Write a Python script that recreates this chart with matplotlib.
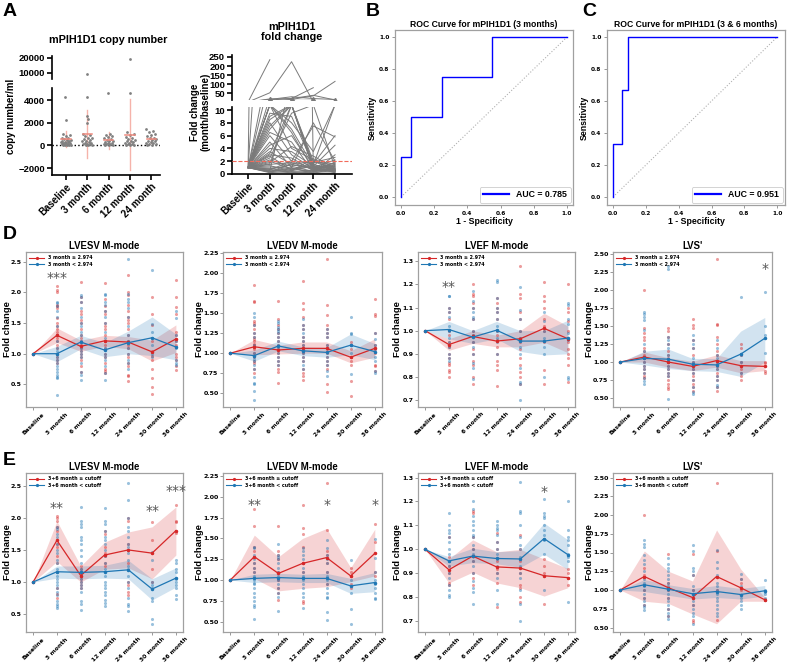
import numpy as np
import matplotlib
matplotlib.use('Agg')
import matplotlib.pyplot as plt
from matplotlib.lines import Line2D
from matplotlib.transforms import offset_copy

nan = np.nan
W, H = 788, 663
ARIAL = ['Liberation Sans', 'DejaVu Sans']
DEJA = ['DejaVu Sans']
plt.rcParams['font.family'] = DEJA

# ------------------------------------------------------------------ Panel A data
a_cats = ['Baseline', '3 month', '6 month', '12 month', '24 month']
copy_baseline = [4300, 2200, 1050, 900, 820, 700, 620, 560, 500, 460, 420, 380, 340, 300, 270,
                 240, 210, 180, 150, 120, 100, 80, 60, 40, 20, 10]
copy_3m = [9600, 4300, 2600, 2300, 1950, 1000, 900, 800, 700, 620, 540, 480, 420, 360, 300, 250,
           200, 160, 120, 90, 60, 30, 10]
copy_6m = [4600, 1050, 950, 820, 720, 620, 540, 470, 410, 360, 310, 260, 210, 170, 130, 100, 70, 40, 20]
copy_12m = [19300, 4600, 1200, 1050, 900, 760, 650, 560, 480, 410, 350, 300, 250, 200, 150, 110, 80, 50, 25]
copy_24m = [1450, 1300, 1150, 1000, 900, 800, 700, 620, 550, 480, 420, 360, 300, 250, 200, 150, 100, 60, 30]
copy_mean = [560, 1010, 440, 965, 560]
copy_sd = [720, 2100, 730, 3150, 320]

fold_traj = [
    [1, 235, nan, nan, nan],
    [1, 52, 224, 0.8, 0.5],
    [1, 18, 20, 38, 12],
    [1, 0.5, 15, 35, 115],
    [1, 12, 20, 80, nan],
    [1, 15, 30, 20, 15],
    [1, 9.5, 9, 1.5, 0.5],
    [1, 8, 3, 0.8, 1.2],
    [1, 7, 10.8, 2, 0.6],
    [1, 6, 2, 7.5, 5.8],
    [1, 5, 1, 8, 2],
    [1, 4.5, 6, 1, 0.3],
    [1, 4, 3.5, 1.2, 4.5],
    [1, 3.5, 1.5, 0.9, 1.5],
    [1, 3, 2.5, 0.5, 0.7],
    [1, 2.8, 0.6, 1.8, 2.6],
    [1, 2.5, 9.5, 10.8, 1.0],
    [1, 2.2, 1.2, 0.4, 0.8],
    [1, 2, 0.8, 1.1, 0.2],
    [1, 1.8, 4.3, 2.8, 0.9],
    [1, 1.5, 1.8, 0.7, 1.8],
    [1, 1.3, 0.5, 1.3, 0.4],
    [1, 1.1, 0.9, 0.3, 1.1],
    [1, 0.9, 0.4, 0.6, 0.5],
    [1, 0.8, 1.4, 1.0, 2.2],
    [1, 0.7, 0.3, 0.2, 0.1],
    [1, 0.6, 2.1, 0.8, 1.4],
    [1, 0.5, 0.7, 1.5, 0.6],
    [1, 0.4, 0.2, 0.5, 0.3],
    [1, 0.3, 1.0, 0.1, 0.9],
    [1, 0.2, 0.5, 2.4, 0.7],
    [1, 10.8, 6.5, 0.6, 1.3],
    [1, 10.8, 8, 3.5, 10.8],
    [1, 9, 10.8, 1.0, 0.4],
    [1, 6.5, 5, 0.3, 3.0],
    [1, 1.6, 10.8, 0.7, 0.5],
    [1, 3.2, 10.8, 1.4, 10.8],
    [1, 0.35, 1.6, 1.9, 1.6],
    [1, 10.8, 7, 1.2, 0.8],
    [1, 8.5, 10.8, 0.9, 1.7],
    [1, 10.8, 4, 2.2, 0.6],
    [1, 7.5, 10.8, 1.6, 6.0],
]
fold_marks = [nan, 15, 15, 15, 14]
fold_cut = 2.0

# ------------------------------------------------------------------ Panel B/C data
roc_b_fpr = [0, 0, 0.0625, 0.0625, 0.25, 0.25, 0.55, 0.55, 1.0]
roc_b_tpr = [0, 0.25, 0.25, 0.5, 0.5, 0.75, 0.75, 1.0, 1.0]
roc_b_auc = 0.785
roc_c_fpr = [0, 0, 0.055, 0.055, 0.09, 0.09, 1.0]
roc_c_tpr = [0, 0.333, 0.333, 0.667, 0.667, 1.0, 1.0]
roc_c_auc = 0.951

# ------------------------------------------------------------------ Panel D/E data
t_cats = ['Baseline', '3 month', '6 month', '12 month', '24 month', '30 month', '36 month']

# D : LVESV
d_lvesv_red_m = [1.0, 1.30, 1.12, 1.21, 1.19, 1.03, 1.24]
d_lvesv_red_lo = [1.0, 1.18, 1.04, 1.12, 1.08, 0.88, 1.02]
d_lvesv_red_hi = [1.0, 1.42, 1.22, 1.30, 1.28, 1.22, 1.47]
d_lvesv_blue_m = [1.0, 1.00, 1.19, 1.06, 1.18, 1.26, 1.11]
d_lvesv_blue_lo = [1.0, 0.87, 1.08, 0.95, 1.00, 0.97, 0.90]
d_lvesv_blue_hi = [1.0, 1.12, 1.30, 1.18, 1.37, 1.60, 1.32]
d_lvesv_red_pts = [
    [1.0],
    [2.11, 2.04, 2.0, 1.8, 1.78, 1.75, 1.58, 1.5, 1.45, 1.4, 1.35, 1.3, 1.25, 1.2, 1.15, 1.1, 1.0, 0.95, 0.9, 0.85],
    [2.17, 1.92, 1.85, 1.7, 1.65, 1.55, 1.5, 1.4, 1.3, 1.25, 1.2, 1.15, 1.1, 1.05, 1.0, 0.95, 0.9, 0.8, 0.7],
    [2.15, 1.9, 1.78, 1.7, 1.65, 1.5, 1.45, 1.4, 1.3, 1.2, 1.15, 1.1, 1.0, 0.95, 0.85, 0.75, 0.72, 0.68],
    [2.28, 2.0, 1.95, 1.8, 1.7, 1.6, 1.55, 1.5, 1.4, 1.3, 1.2, 1.15, 1.1, 1.0, 0.95, 0.85, 0.8, 0.65, 0.63, 0.55],
    [1.93, 1.65, 1.47, 1.2, 1.05, 0.97, 0.9, 0.75, 0.6, 0.45, 0.35],
    [2.2, 1.93, 1.77, 1.65, 1.35, 1.3, 1.2, 1.15, 1.0, 0.95, 0.9, 0.8, 0.73]]
d_lvesv_blue_pts = [
    [1.0],
    [1.85, 1.82, 1.78, 1.7, 1.6, 1.45, 1.3, 1.2, 1.1, 1.05, 1.0, 0.95, 0.9, 0.85, 0.8, 0.75, 0.7, 0.65, 0.62, 0.6, 0.32],
    [1.95, 1.92, 1.85, 1.75, 1.6, 1.5, 1.45, 1.35, 1.3, 1.2, 1.1, 1.05, 1.0, 0.95, 0.85, 0.7, 0.65, 0.57],
    [1.98, 1.95, 1.85, 1.8, 1.7, 1.6, 1.5, 1.35, 1.25, 1.1, 1.0, 0.95, 0.9, 0.8, 0.68, 0.57],
    [2.55, 1.98, 1.9, 1.85, 1.75, 1.6, 1.45, 1.3, 1.2, 1.1, 1.0, 0.9, 0.85, 0.75],
    [2.36, 1.48, 1.35, 1.15, 1.0, 0.95],
    [1.7, 1.58, 1.3, 1.2, 1.1, 0.9, 0.85, 0.82]]
d_lvesv_stars = [(1, 2.31, '***')]

# D : LVEDV
d_lvedv_red_m = [1.0, 1.08, 1.04, 1.06, 1.06, 0.95, 1.06]
d_lvedv_red_lo = [1.0, 0.98, 0.99, 1.00, 1.00, 0.88, 0.95]
d_lvedv_red_hi = [1.0, 1.17, 1.10, 1.14, 1.14, 1.03, 1.18]
d_lvedv_blue_m = [1.0, 0.97, 1.09, 1.03, 1.01, 1.10, 1.02]
d_lvedv_blue_lo = [1.0, 0.90, 1.03, 0.97, 0.95, 0.98, 0.92]
d_lvedv_blue_hi = [1.0, 1.04, 1.15, 1.08, 1.07, 1.24, 1.12]
d_lvedv_red_pts = [
    [1.0],
    [1.85, 1.65, 1.64, 1.4, 1.38, 1.35, 1.3, 1.25, 1.2, 1.18, 1.15, 1.12, 1.1, 1.05, 1.0, 0.95, 0.9, 0.88, 0.8, 0.75],
    [1.65, 1.43, 1.35, 1.3, 1.25, 1.2, 1.15, 1.1, 1.05, 1.0, 0.95, 0.9, 0.85, 0.8, 0.76, 0.63],
    [1.9, 1.62, 1.55, 1.45, 1.35, 1.3, 1.2, 1.15, 1.1, 1.05, 1.0, 0.95, 0.9, 0.8, 0.75, 0.72, 0.67],
    [2.17, 1.6, 1.48, 1.35, 1.3, 1.25, 1.2, 1.1, 1.05, 1.0, 0.95, 0.9, 0.85, 0.8, 0.62, 0.52],
    [1.14, 1.1, 1.05, 0.95, 0.9, 0.85, 0.65, 0.47],
    [1.67, 1.49, 1.46, 1.25, 1.1, 1.05, 1.0, 0.85, 0.84, 0.78]]
d_lvedv_blue_pts = [
    [1.0],
    [1.5, 1.45, 1.35, 1.25, 1.2, 1.1, 1.0, 0.97, 0.93, 0.9, 0.85, 0.8, 0.7, 0.63, 0.62, 0.53, 0.42],
    [1.4, 1.38, 1.33, 1.3, 1.28, 1.25, 1.2, 1.15, 1.1, 1.05, 1.0, 0.95, 0.9, 0.85],
    [1.43, 1.35, 1.3, 1.25, 1.2, 1.15, 1.1, 1.0, 0.95, 0.9, 0.85, 0.8],
    [1.3, 1.25, 1.2, 1.1, 1.0, 0.95, 0.9, 0.85, 0.78, 0.72],
    [1.45, 1.25, 1.24, 1.1, 1.0, 0.74],
    [1.25, 1.18, 1.1, 1.05, 0.95, 0.9, 0.78, 0.75]]
d_lvedv_stars = []

# D : LVEF
d_lvef_red_m = [1.0, 0.94, 0.975, 0.955, 0.965, 1.01, 0.965]
d_lvef_red_lo = [1.0, 0.915, 0.945, 0.93, 0.93, 0.95, 0.905]
d_lvef_red_hi = [1.0, 0.965, 1.00, 0.98, 1.00, 1.075, 1.02]
d_lvef_blue_m = [1.0, 1.005, 0.972, 1.002, 0.955, 0.955, 0.968]
d_lvef_blue_lo = [1.0, 0.965, 0.945, 0.965, 0.91, 0.895, 0.90]
d_lvef_blue_hi = [1.0, 1.04, 1.00, 1.04, 1.00, 1.00, 1.045]
d_lvef_red_pts = [
    [1.0],
    [1.1, 1.08, 1.05, 1.0, 0.98, 0.95, 0.93, 0.9, 0.88, 0.86, 0.85, 0.83, 0.82, 0.8],
    [1.2, 1.16, 1.15, 1.12, 1.1, 1.05, 1.0, 0.98, 0.95, 0.92, 0.9, 0.87, 0.85, 0.8, 0.77],
    [1.14, 1.12, 1.1, 1.08, 1.05, 1.0, 0.98, 0.96, 0.93, 0.9, 0.87, 0.85, 0.83, 0.76],
    [1.28, 1.16, 1.14, 1.08, 1.05, 1.0, 0.97, 0.95, 0.92, 0.88, 0.85, 0.82, 0.8, 0.77],
    [1.21, 1.15, 1.13, 1.1, 1.05, 1.02, 1.0, 0.95, 0.83, 0.77],
    [1.2, 1.1, 1.08, 1.04, 1.0, 0.95, 0.92, 0.9, 0.88, 0.85, 0.78]]
d_lvef_blue_pts = [
    [1.0],
    [1.15, 1.15, 1.1, 1.08, 1.06, 1.02, 1.0, 0.97, 0.95, 0.93, 0.9, 0.88, 0.87],
    [1.17, 1.13, 1.1, 1.08, 1.06, 1.05, 1.0, 0.98, 0.95, 0.93, 0.9, 0.86, 0.84, 0.79],
    [1.22, 1.21, 1.14, 1.1, 1.08, 1.05, 1.02, 1.0, 0.97, 0.95, 0.9],
    [1.19, 1.09, 1.05, 1.0, 0.97, 0.93, 0.9, 0.84, 0.78, 0.77, 0.7],
    [1.08, 1.04, 1.0, 0.97, 0.93, 0.9, 0.8],
    [1.12, 1.11, 1.05, 1.03, 0.99, 0.96, 0.8, 0.79]]
d_lvef_stars = [(1, 1.21, '**')]

# D : LVS'
d_lvs_red_m = [1.0, 1.07, 1.00, 0.94, 1.02, 0.95, 0.94]
d_lvs_red_lo = [1.0, 1.00, 0.93, 0.88, 0.93, 0.85, 0.88]
d_lvs_red_hi = [1.0, 1.14, 1.06, 1.01, 1.10, 1.02, 1.02]
d_lvs_blue_m = [1.0, 1.05, 1.04, 0.97, 0.96, 1.11, 1.33]
d_lvs_blue_lo = [1.0, 0.96, 0.91, 0.88, 0.87, 0.80, 1.00]
d_lvs_blue_hi = [1.0, 1.15, 1.18, 1.05, 1.05, 1.43, 1.62]
d_lvs_red_pts = [
    [1.0],
    [2.0, 1.47, 1.4, 1.35, 1.3, 1.2, 1.15, 1.1, 1.05, 1.0, 0.95, 0.9, 0.85, 0.8, 0.78],
    [1.48, 1.43, 1.35, 1.25, 1.15, 1.1, 1.05, 1.0, 0.95, 0.9, 0.85, 0.8, 0.75, 0.7, 0.65, 0.62],
    [1.6, 1.52, 1.48, 1.3, 1.2, 1.1, 1.0, 0.9, 0.85, 0.8, 0.75, 0.7, 0.65, 0.6],
    [2.43, 1.53, 1.52, 1.35, 1.25, 1.15, 1.1, 1.0, 0.95, 0.9, 0.85, 0.8, 0.75, 0.65, 0.6],
    [1.25, 1.2, 1.1, 1.0, 0.9, 0.85, 0.8, 0.75],
    [1.0, 0.98, 0.88, 0.85]]
d_lvs_blue_pts = [
    [1.0],
    [1.7, 1.67, 1.62, 1.58, 1.45, 1.25, 1.15, 1.05, 1.0, 0.95, 0.9, 0.85, 0.78, 0.73, 0.7],
    [2.33, 2.3, 1.35, 1.3, 1.25, 1.2, 1.1, 1.0, 0.95, 0.9, 0.85, 0.8, 0.48],
    [1.37, 1.3, 1.25, 1.2, 1.05, 1.0, 0.95, 0.9, 0.85, 0.75, 0.65, 0.58, 0.55],
    [1.3, 1.2, 1.1, 1.05, 1.0, 0.95, 0.9, 0.8, 0.75, 0.68, 0.65],
    [1.9, 1.1, 1.0, 0.95, 0.85],
    [1.97, 1.5, 1.37, 1.13]]
d_lvs_stars = [(6, 2.35, '*')]

# E : LVESV
e_lvesv_red_m = [1.0, 1.65, 1.10, 1.42, 1.50, 1.45, 1.80]
e_lvesv_red_lo = [1.0, 1.32, 1.00, 1.20, 1.22, 1.05, 1.42]
e_lvesv_red_hi = [1.0, 1.95, 1.25, 1.62, 1.78, 1.86, 2.17]
e_lvesv_blue_m = [1.0, 1.16, 1.15, 1.16, 1.19, 0.89, 1.06]
e_lvesv_blue_lo = [1.0, 1.06, 1.05, 1.06, 1.05, 0.72, 0.92]
e_lvesv_blue_hi = [1.0, 1.25, 1.25, 1.26, 1.34, 1.05, 1.22]
e_lvesv_red_pts = [
    [1.0],
    [2.03, 2.0, 1.95, 1.85, 1.8, 1.6, 1.55, 1.4, 1.3, 0.9, 0.82, 0.75],
    [1.25, 1.2, 1.1, 1.05, 1.0, 0.95, 0.9],
    [1.8, 1.75, 1.55, 1.45, 1.4, 1.3, 1.25],
    [2.0, 1.95, 1.6, 1.5, 1.3, 1.0, 0.95, 0.85, 0.8],
    [1.93, 1.65, 1.45, 1.2, 1.0],
    [2.2, 1.95, 1.93, 1.77]]
e_lvesv_blue_pts = [
    [1.0],
    [1.85, 1.82, 1.75, 1.7, 1.6, 1.5, 1.45, 1.35, 1.3, 1.2, 1.15, 1.1, 1.05, 1.0, 0.95, 0.9, 0.85, 0.8, 0.7, 0.65, 0.62, 0.6],
    [2.17, 1.95, 1.9, 1.85, 1.7, 1.65, 1.6, 1.5, 1.4, 1.3, 1.2, 1.15, 1.1, 1.05, 1.0, 0.95, 0.9, 0.85, 0.7, 0.65, 0.57],
    [2.15, 1.95, 1.9, 1.8, 1.7, 1.65, 1.6, 1.5, 1.4, 1.3, 1.2, 1.1, 1.0, 0.95, 0.9, 0.85, 0.8, 0.72, 0.68, 0.62],
    [2.55, 2.28, 2.0, 1.85, 1.8, 1.7, 1.6, 1.55, 1.45, 1.35, 1.25, 1.2, 1.1, 1.0, 0.9, 0.75, 0.65, 0.63, 0.55],
    [1.47, 1.35, 1.0, 0.95, 0.9, 0.75, 0.7, 0.43, 0.35],
    [1.35, 1.3, 1.2, 1.15, 1.05, 1.0, 0.95, 0.9, 0.8, 0.73]]
e_lvesv_stars = [(1, 2.23, '**'), (5, 2.17, '**'), (6, 2.49, '***')]

# E : LVEDV
e_lvedv_red_m = [1.0, 1.28, 1.08, 1.20, 1.27, 1.05, 1.32]
e_lvedv_red_lo = [1.0, 1.02, 0.87, 0.90, 0.92, 0.98, 1.05]
e_lvedv_red_hi = [1.0, 1.54, 1.28, 1.50, 1.62, 1.15, 1.61]
e_lvedv_blue_m = [1.0, 1.02, 1.03, 1.02, 1.02, 0.93, 0.97]
e_lvedv_blue_lo = [1.0, 0.97, 0.98, 0.97, 0.97, 0.84, 0.86]
e_lvedv_blue_hi = [1.0, 1.07, 1.08, 1.07, 1.08, 1.02, 1.09]
e_lvedv_red_pts = [
    [1.0],
    [1.85, 1.65, 1.4, 1.35, 1.2, 1.15, 1.1],
    [1.65, 1.35, 1.3, 1.25, 1.1, 1.0, 0.9, 0.85, 0.76],
    [1.9, 1.62, 1.55, 1.4, 1.2, 1.1, 0.75, 0.72],
    [2.17, 1.6, 1.35, 1.3, 1.2, 1.1, 0.95],
    [1.14, 1.1, 1.05, 0.95, 0.9],
    [1.67, 1.46, 1.1, 1.05]]
e_lvedv_blue_pts = [
    [1.0],
    [1.4, 1.38, 1.3, 1.25, 1.2, 1.15, 1.1, 1.05, 1.0, 0.97, 0.95, 0.9, 0.85, 0.8, 0.75, 0.7, 0.68, 0.53],
    [1.43, 1.3, 1.28, 1.25, 1.2, 1.15, 1.1, 1.05, 1.0, 0.95, 0.9, 0.85, 0.8, 0.63],
    [1.38, 1.35, 1.3, 1.25, 1.2, 1.15, 1.1, 1.05, 1.0, 0.95, 0.9, 0.85, 0.8, 0.67],
    [1.48, 1.38, 1.3, 1.25, 1.2, 1.1, 1.05, 1.0, 0.95, 0.9, 0.85, 0.8, 0.78, 0.62, 0.52],
    [1.24, 1.0, 0.85, 0.65, 0.47],
    [1.49, 1.27, 1.1, 1.0, 0.95, 0.9, 0.85, 0.78, 0.77]]
e_lvedv_stars = [(1, 1.96, '**'), (4, 1.96, '*'), (6, 1.96, '*')]

# E : LVEF
e_lvef_red_m = [1.0, 0.915, 0.972, 0.927, 0.922, 0.89, 0.882]
e_lvef_red_lo = [1.0, 0.86, 0.905, 0.86, 0.84, 0.805, 0.84]
e_lvef_red_hi = [1.0, 0.96, 1.04, 0.99, 1.00, 0.96, 0.92]
e_lvef_blue_m = [1.0, 0.952, 0.972, 0.962, 0.96, 1.045, 0.978]
e_lvef_blue_lo = [1.0, 0.93, 0.945, 0.94, 0.925, 0.98, 0.915]
e_lvef_blue_hi = [1.0, 0.97, 1.005, 0.99, 0.995, 1.11, 1.04]
e_lvef_red_pts = [
    [1.0],
    [1.05, 0.97, 0.93, 0.9, 0.86, 0.85],
    [1.16, 1.15, 1.05, 1.0, 0.95, 0.9, 0.88, 0.85],
    [1.07, 1.03, 1.0, 0.95, 0.92, 0.9, 0.86, 0.76],
    [1.06, 1.0, 0.95, 0.9, 0.85, 0.84, 0.8, 0.78],
    [0.96, 0.93, 0.9, 0.77],
    [0.92, 0.9, 0.88, 0.85]]
e_lvef_blue_pts = [
    [1.0],
    [1.15, 1.1, 1.08, 1.07, 1.05, 1.03, 1.0, 0.98, 0.95, 0.93, 0.9, 0.88, 0.85, 0.83, 0.81, 0.8],
    [1.2, 1.17, 1.14, 1.12, 1.1, 1.08, 1.06, 1.05, 1.02, 1.0, 0.98, 0.95, 0.93, 0.9, 0.87, 0.84, 0.82, 0.77],
    [1.12, 1.1, 1.09, 1.08, 1.06, 1.03, 1.0, 0.98, 0.96, 0.93, 0.9, 0.88, 0.83, 0.77],
    [1.28, 1.16, 1.15, 1.1, 1.05, 1.02, 1.0, 0.97, 0.93, 0.9, 0.88, 0.83, 0.77, 0.7],
    [1.21, 1.15, 1.14, 1.13, 1.1, 1.08, 1.06, 1.04, 0.98, 0.83],
    [1.2, 1.08, 1.05, 1.04, 1.02, 0.98, 0.97, 0.95, 0.78]]
e_lvef_stars = [(5, 1.26, '*')]

# E : LVS'
e_lvs_red_m = [1.0, 1.18, 1.03, 0.90, 1.18, 1.03, 0.87]
e_lvs_red_lo = [1.0, 0.85, 0.82, 0.68, 0.55, 0.85, 0.85]
e_lvs_red_hi = [1.0, 1.52, 1.25, 1.12, 1.80, 1.28, 0.90]
e_lvs_blue_m = [1.0, 1.07, 1.01, 0.95, 0.98, 0.94, 0.99]
e_lvs_blue_lo = [1.0, 0.98, 0.93, 0.88, 0.90, 0.88, 0.92]
e_lvs_blue_hi = [1.0, 1.14, 1.07, 1.02, 1.06, 1.02, 1.06]
e_lvs_red_pts = [
    [1.0],
    [2.0, 1.3, 1.2, 1.0, 0.9, 0.8],
    [1.48, 1.1, 1.0, 0.9, 0.75, 0.65],
    [1.48, 1.2, 1.0, 0.8, 0.6, 0.58],
    [2.43, 1.52, 1.0, 0.6],
    [1.15, 1.1, 1.0],
    [0.88, 0.87]]
e_lvs_blue_pts = [
    [1.0],
    [1.67, 1.62, 1.58, 1.47, 1.4, 1.35, 1.25, 1.15, 1.1, 1.05, 1.0, 0.95, 0.9, 0.85, 0.8, 0.78, 0.73],
    [1.43, 1.35, 1.3, 1.25, 1.2, 1.15, 1.1, 1.05, 1.0, 0.95, 0.9, 0.85, 0.8, 0.75, 0.7, 0.65, 0.62],
    [1.6, 1.52, 1.3, 1.25, 1.2, 1.05, 1.0, 0.95, 0.9, 0.85, 0.8, 0.75, 0.7, 0.65, 0.55],
    [1.53, 1.38, 1.3, 1.2, 1.1, 1.05, 1.0, 0.95, 0.9, 0.85, 0.8, 0.75, 0.7, 0.65],
    [1.22, 1.15, 1.05, 0.9, 0.85, 0.8, 0.75],
    [1.13, 1.0, 0.98, 0.95, 0.9, 0.87]]
e_lvs_stars = []

d_labels = ['3 month \u2265 2.974', '3 month < 2.974']
e_labels = ['3+6 month \u2265 cutoff', '3+6 month < cutoff']

# ------------------------------------------------------------------ helpers
fig = plt.figure(figsize=(W / 100, H / 100), dpi=100)


def px_ax(x0, y0, x1, y1):
    return fig.add_axes([x0 / W, 1 - y1 / H, (x1 - x0) / W, (y1 - y0) / H])


def ftext(x, y, s, **kw):
    return fig.text(x / W, 1 - y / H, s, **kw)


RED = '#d62728'
BLUE = '#1f77b4'
GREY_SP = '#a0a0a0'

# ------------------------------------------------------------------ Panel A left
axL_lo = px_ax(52, 88, 160, 175)
axL_hi = px_ax(52, 56, 160, 79)
groups = [copy_baseline, copy_3m, copy_6m, copy_12m, copy_24m]
for ax in (axL_lo, axL_hi):
    for i, vals in enumerate(groups):
        v = np.array(vals, float)
        offs = np.array([((k * 0.618034) % 1 - 0.5) * (0.5 if val < 1600 else 0.04)
                         for k, val in enumerate(v)])
        ax.scatter(i + offs, v, s=4, color='#808080', zorder=3, lw=0)
        ax.plot([i, i], [copy_mean[i] - copy_sd[i], copy_mean[i] + copy_sd[i]],
                color='#f5b3aa', lw=1, zorder=2)
        ax.plot([i - 0.22, i + 0.22], [copy_mean[i]] * 2, color='#ef8a7e', lw=1.1, zorder=4)
    ax.set_xlim(-0.65, 4.4)
    for s in ('top', 'right'):
        ax.spines[s].set_visible(False)
    ax.spines['left'].set_linewidth(1.2)
    ax.spines['bottom'].set_linewidth(1.2)
    ax.tick_params(width=1.2, length=3.5, pad=1.5)
axL_lo.set_ylim(-2600, 5060)
axL_hi.set_ylim(6000, 21300)
axL_lo.axhline(0, color='black', ls=':', lw=1, zorder=1)
axL_hi.spines['bottom'].set_visible(False)
axL_hi.set_xticks([])
axL_hi.set_yticks([10000, 20000])
axL_lo.set_yticks([-2000, 0, 2000, 4000])
axL_lo.set_xticks(range(5))
axL_lo.set_xticklabels(a_cats, rotation=45, ha='right', rotation_mode='anchor',
                       family=ARIAL, weight='bold', fontsize=7)
for ax in (axL_lo, axL_hi):
    for t in ax.get_yticklabels():
        t.set_family(ARIAL); t.set_weight('bold'); t.set_fontsize(6.8)
ftext(108, 40, 'mPIH1D1 copy number', ha='center', va='center', family=ARIAL,
      weight='bold', fontsize=7.8)
ftext(11, 116, 'copy number/ml', rotation=90, ha='center', va='center', family=ARIAL,
      weight='bold', fontsize=7)

# ------------------------------------------------------------------ Panel A right
axR_lo = px_ax(232, 107, 352, 174)
axR_hi = px_ax(232, 55, 352, 100)
xs5 = np.arange(5)
for ax in (axR_lo, axR_hi):
    for tr in fold_traj:
        ax.plot(xs5, tr, color='#7a7a7a', lw=0.7, zorder=2)
    ax.plot(xs5, fold_marks, ls='none', marker='^', ms=3, color='#7a7a7a', zorder=3)
    ax.set_xlim(-0.74, 4.78)
    for s in ('top', 'right'):
        ax.spines[s].set_visible(False)
    ax.spines['left'].set_linewidth(1.2)
    ax.spines['bottom'].set_linewidth(1.2)
    ax.tick_params(width=1.2, length=3.5, pad=1.5)
axR_lo.axhline(fold_cut, color='#f26b5b', ls='--', lw=0.8, zorder=4)
axR_lo.set_ylim(0, 10.47)
axR_hi.set_ylim(12, 261)
axR_hi.spines['bottom'].set_visible(False)
axR_hi.set_xticks([])
axR_hi.set_yticks([50, 100, 150, 200, 250])
axR_lo.set_yticks([0, 2, 4, 6, 8, 10])
axR_lo.set_xticks(range(5))
axR_lo.set_xticklabels(a_cats, rotation=45, ha='right', rotation_mode='anchor',
                       family=ARIAL, weight='bold', fontsize=7)
for ax in (axR_lo, axR_hi):
    for t in ax.get_yticklabels():
        t.set_family(ARIAL); t.set_weight('bold'); t.set_fontsize(6.8)
ftext(292, 32, 'mPIH1D1\nfold change', ha='center', va='center', family=ARIAL,
      weight='bold', fontsize=7.8, linespacing=1.1)
ftext(200, 112, 'Fold change\n(month/baseline)', rotation=90, ha='center', va='center',
      family=ARIAL, weight='bold', fontsize=7, linespacing=1.05)

# ------------------------------------------------------------------ ROC panels
def roc_panel(rect, fpr, tpr, auc, title, xlim):
    ax = px_ax(*rect)
    ax.plot([0, 1], [0, 1], color='#b0b0b0', ls=':', lw=0.8)
    ax.plot(fpr, tpr, color='blue', lw=1.0, label=f'AUC = {auc:.3f}')
    ax.set_xlim(*xlim)
    ax.set_ylim(-0.05, 1.044)
    ticks = [0.0, 0.2, 0.4, 0.6, 0.8, 1.0]
    ax.set_xticks(ticks)
    ax.set_yticks(ticks)
    ax.set_xticklabels([f'{t:.1f}' for t in ticks], fontsize=4.2, weight='bold')
    ax.set_yticklabels([f'{t:.1f}' for t in ticks], fontsize=4.2, weight='bold')
    ax.tick_params(length=2, width=0.6, color='#888888', pad=2)
    for s in ax.spines.values():
        s.set_color(GREY_SP); s.set_linewidth(0.9)
    ax.set_title(title, family=ARIAL, weight='bold', fontsize=6.2, pad=2.5)
    ax.set_xlabel('1 - Specificity', family=ARIAL, weight='bold', fontsize=6.3, labelpad=1)
    ax.set_ylabel('Sensitivity', family=ARIAL, weight='bold', fontsize=6.3, labelpad=2)
    leg = ax.legend(loc='lower right', prop={'family': ARIAL, 'weight': 'bold', 'size': 6.3},
                    handlelength=3.0, borderaxespad=0.25, borderpad=0.4, fancybox=True,
                    framealpha=1)
    leg.get_frame().set_edgecolor('#cccccc')
    leg.get_frame().set_linewidth(0.6)
    for ln in leg.get_lines():
        ln.set_linewidth(1.6)
    return ax


roc_panel((395, 30, 573, 205), roc_b_fpr, roc_b_tpr, roc_b_auc,
          'ROC Curve for mPIH1D1 (3 months)', (-0.036, 1.036))
roc_panel((607, 30, 785, 205), roc_c_fpr, roc_c_tpr, roc_c_auc,
          'ROC Curve for mPIH1D1 (3 & 6 months)', (-0.037, 1.048))

# ------------------------------------------------------------------ D / E panels
xs7 = np.arange(len(t_cats))


def fc_panel(rect, ylab_x, title, red_pts, blue_pts, rm, rlo, rhi, bm, blo, bhi,
             ylim, yticks, fmt, stars, labels):
    ax = px_ax(*rect)
    for i in range(len(t_cats)):
        ax.scatter(np.full(len(red_pts[i]), i), red_pts[i], s=5, color=RED, alpha=0.45,
                   lw=0, zorder=2)
        ax.scatter(np.full(len(blue_pts[i]), i), blue_pts[i], s=5, color=BLUE, alpha=0.45,
                   lw=0, zorder=2)
    ax.fill_between(xs7, rlo, rhi, color=RED, alpha=0.2, lw=0, zorder=1)
    ax.fill_between(xs7, blo, bhi, color=BLUE, alpha=0.2, lw=0, zorder=1)
    ax.plot(xs7, rm, color=RED, lw=0.9, marker='o', ms=1.5, zorder=3)
    ax.plot(xs7, bm, color=BLUE, lw=0.9, marker='o', ms=1.5, zorder=3)
    star_tr = offset_copy(ax.transData, fig=fig, x=0, y=-3.2, units='points')
    for (xi, yv, s) in stars:
        ax.text(xi, yv, s, ha='center', va='center', fontsize=10, color='#555555', zorder=5,
                transform=star_tr)
    ax.set_xlim(-0.3, 6.3)
    ax.set_ylim(*ylim)
    ax.set_xticks(xs7)
    ax.set_xticklabels(t_cats, rotation=45, ha='center', fontsize=4.3, weight='bold')
    ax.set_yticks(yticks)
    ax.set_yticklabels([fmt.format(t) for t in yticks], fontsize=4.5, weight='bold')
    ax.tick_params(length=2, width=0.6, color='#888888', pad=1.2)
    for s in ax.spines.values():
        s.set_color(GREY_SP); s.set_linewidth(0.9)
    ax.set_title(title, family=ARIAL, weight='bold', fontsize=6.9, pad=2)
    cy = (rect[1] + rect[3]) / 2
    ftext(ylab_x, cy, 'Fold change', rotation=90, ha='center', va='center', family=ARIAL,
          weight='bold', fontsize=6.8)
    handles = [Line2D([0], [0], color=RED, lw=0.8, marker='o', ms=1.3),
               Line2D([0], [0], color=BLUE, lw=0.8, marker='o', ms=1.3)]
    ax.legend(handles, labels, loc='upper left', frameon=False,
              prop={'weight': 'bold', 'size': 3.4}, handlelength=3.2, handletextpad=0.8,
              labelspacing=0.35, borderaxespad=0.4, borderpad=0.3)
    return ax


cols = [(26, 183), (223, 382), (418, 575), (613, 772)]
ylab_xs = [7, 200, 398, 589]
rowD = (252, 407)
rowE = (473, 632)

tick_esv = [0.5, 1.0, 1.5, 2.0, 2.5]
tick_edv = [0.5, 0.75, 1.0, 1.25, 1.5, 1.75, 2.0, 2.25]
tick_ef = [0.7, 0.8, 0.9, 1.0, 1.1, 1.2, 1.3]
tick_s = [0.5, 0.75, 1.0, 1.25, 1.5, 1.75, 2.0, 2.25, 2.5]

fc_panel((cols[0][0], rowD[0], cols[0][1], rowD[1]), ylab_xs[0], 'LVESV M-mode',
         d_lvesv_red_pts, d_lvesv_blue_pts, d_lvesv_red_m, d_lvesv_red_lo, d_lvesv_red_hi,
         d_lvesv_blue_m, d_lvesv_blue_lo, d_lvesv_blue_hi, (0.13, 2.66), tick_esv, '{:.1f}',
         d_lvesv_stars, d_labels)
fc_panel((cols[1][0], rowD[0], cols[1][1], rowD[1]), ylab_xs[1], 'LVEDV M-mode',
         d_lvedv_red_pts, d_lvedv_blue_pts, d_lvedv_red_m, d_lvedv_red_lo, d_lvedv_red_hi,
         d_lvedv_blue_m, d_lvedv_blue_lo, d_lvedv_blue_hi, (0.33, 2.26), tick_edv, '{:.2f}',
         d_lvedv_stars, d_labels)
fc_panel((cols[2][0], rowD[0], cols[2][1], rowD[1]), ylab_xs[2], 'LVEF M-mode',
         d_lvef_red_pts, d_lvef_blue_pts, d_lvef_red_m, d_lvef_red_lo, d_lvef_red_hi,
         d_lvef_blue_m, d_lvef_blue_lo, d_lvef_blue_hi, (0.67, 1.34), tick_ef, '{:.1f}',
         d_lvef_stars, d_labels)
fc_panel((cols[3][0], rowD[0], cols[3][1], rowD[1]), ylab_xs[3], "LVS'",
         d_lvs_red_pts, d_lvs_blue_pts, d_lvs_red_m, d_lvs_red_lo, d_lvs_red_hi,
         d_lvs_blue_m, d_lvs_blue_lo, d_lvs_blue_hi, (0.375, 2.53), tick_s, '{:.2f}',
         d_lvs_stars, d_labels)

fc_panel((cols[0][0], rowE[0], cols[0][1], rowE[1]), ylab_xs[0], 'LVESV M-mode',
         e_lvesv_red_pts, e_lvesv_blue_pts, e_lvesv_red_m, e_lvesv_red_lo, e_lvesv_red_hi,
         e_lvesv_blue_m, e_lvesv_blue_lo, e_lvesv_blue_hi, (0.22, 2.70), tick_esv, '{:.1f}',
         e_lvesv_stars, e_labels)
fc_panel((cols[1][0], rowE[0], cols[1][1], rowE[1]), ylab_xs[1], 'LVEDV M-mode',
         e_lvedv_red_pts, e_lvedv_blue_pts, e_lvedv_red_m, e_lvedv_red_lo, e_lvedv_red_hi,
         e_lvedv_blue_m, e_lvedv_blue_lo, e_lvedv_blue_hi, (0.376, 2.286), tick_edv, '{:.2f}',
         e_lvedv_stars, e_labels)
fc_panel((cols[2][0], rowE[0], cols[2][1], rowE[1]), ylab_xs[2], 'LVEF M-mode',
         e_lvef_red_pts, e_lvef_blue_pts, e_lvef_red_m, e_lvef_red_lo, e_lvef_red_hi,
         e_lvef_blue_m, e_lvef_blue_lo, e_lvef_blue_hi, (0.655, 1.319), tick_ef, '{:.1f}',
         e_lvef_stars, e_labels)
fc_panel((cols[3][0], rowE[0], cols[3][1], rowE[1]), ylab_xs[3], "LVS'",
         e_lvs_red_pts, e_lvs_blue_pts, e_lvs_red_m, e_lvs_red_lo, e_lvs_red_hi,
         e_lvs_blue_m, e_lvs_blue_lo, e_lvs_blue_hi, (0.44, 2.56), tick_s, '{:.2f}',
         e_lvs_stars, e_labels)

# ------------------------------------------------------------------ panel letters
for (lx, ly, L) in [(3, 3, 'A'), (366, 3, 'B'), (582, 3, 'C'), (3, 226, 'D'), (3, 452, 'E')]:
    ftext(lx, ly, L, ha='left', va='top', family=ARIAL, weight='bold', fontsize=14)

fig.savefig('out.png', dpi=100)
